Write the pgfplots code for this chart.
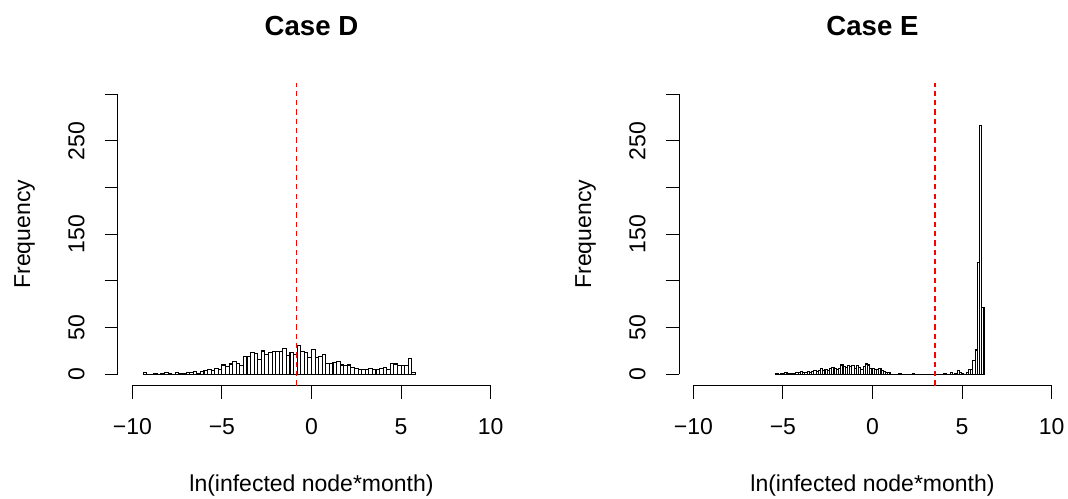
\documentclass[border=0pt]{standalone}
\usepackage{fontspec}
\setmainfont{Liberation Sans}
\usepackage{pgfplots}
\usepackage{pgfplotstable}
\pgfplotsset{compat=1.18}
\definecolor{rred}{RGB}{255,0,0}

% Case D: bin width 0.2, left edges; last row closes the final bin
\pgfplotstableread{
x y
-9.4 2
-9.2 0
-9.0 0
-8.8 1
-8.6 0
-8.4 1
-8.2 2
-8.0 1
-7.8 0
-7.6 2
-7.4 1
-7.2 1
-7.0 2
-6.8 2
-6.6 3
-6.4 1
-6.2 3
-6.0 4
-5.8 5
-5.6 4
-5.4 6
-5.2 5
-5.0 10
-4.8 8
-4.6 11
-4.4 14
-4.2 12
-4.0 9
-3.8 19
-3.6 19
-3.4 23
-3.2 22
-3.0 16
-2.8 25
-2.6 21
-2.4 23
-2.2 24
-2.0 24
-1.8 24
-1.6 28
-1.4 20
-1.2 23
-1.0 21
-0.8 31
-0.6 24
-0.4 23
-0.2 18
0.0 27
0.2 18
0.4 19
0.6 21
0.8 12
1.0 12
1.2 13
1.4 14
1.6 10
1.8 9
2.0 10
2.2 7
2.4 6
2.6 5
2.8 5
3.0 5
3.2 6
3.4 5
3.6 5
3.8 6
4.0 7
4.2 5
4.4 12
4.6 11
4.8 9
5.0 9
5.2 9
5.4 17
5.6 2
5.8 0
}\caseD

% Case E: bin width 0.125
\pgfplotstableread{
x y
-5.4 1
-5.275 0
-5.15 1
-5.025 1
-4.9 2
-4.775 1
-4.65 1
-4.525 1
-4.4 1
-4.275 2
-4.15 2
-4.025 3
-3.9 2
-3.775 2
-3.65 3
-3.525 2
-3.4 3
-3.275 4
-3.15 3
-3.025 4
-2.9 6
-2.775 4
-2.65 5
-2.525 4
-2.4 6
-2.275 7
-2.15 6
-2.025 5
-1.9 6
-1.775 10
-1.65 8
-1.525 7
-1.4 9
-1.275 8
-1.15 9
-1.025 6
-0.9 9
-0.775 7
-0.65 5
-0.525 8
-0.4 11
-0.275 10
-0.15 6
-0.025 6
0.1 5
0.225 5
0.35 6
0.475 4
0.6 3
0.725 2
0.85 2
0.975 0
1.1 0
1.225 0
1.35 0
1.475 1
1.6 0
1.725 0
1.85 0
1.975 0
2.1 0
2.225 1
2.35 0
2.475 0
2.6 0
2.725 0
2.85 0
2.975 0
3.1 0
3.225 0
3.35 0
3.475 0
3.6 0
3.725 0
3.85 0
3.975 1
4.1 0
4.225 0
4.35 2
4.475 0
4.6 1
4.725 4
4.85 2
4.975 1
5.1 0
5.225 2
5.35 5
5.475 5
5.6 15
5.725 26
5.85 120
5.975 267
6.1 72
6.225 0
}\caseE

\tikzset{vline/.style={draw=rred, line width=1.1pt, dash pattern=on 4pt off 3pt}}

\pgfplotsset{
  rhist/.style={
    scale only axis,
    width=290.25pt, height=226.8pt,
    anchor=south west,
    xmin=-10.8, xmax=10.8, ymin=-12, ymax=312,
    axis x line*=bottom, axis y line*=left,
    axis line style={draw=none},
    tick align=outside,
    major tick length=10pt,
    major tick style={black, line width=0.75pt},
    xtick={-10,-5,0,5,10},
    xticklabels={−10,−5,0,5,10},
    ytick={0,50,100,150,200,250,300},
    yticklabels={0,50,,150,,250,},
    tick label style={font=\fontsize{17.25}{20}\selectfont},
    label style={font=\fontsize{17.25}{20}\selectfont},
    xticklabel style={anchor=base, yshift=-27pt},
    yticklabel style={xshift=-15.3pt, rotate=90, anchor=base},
    title style={at={(axis description cs:0.5,1.13)}, anchor=base,
                 font=\bfseries\fontsize{20.7}{24}\selectfont},
    xlabel style={at={(axis description cs:0.5,-0.351)}, anchor=base},
    ylabel style={at={(axis description cs:-0.227,0.5)}, anchor=base},
    xlabel={ln(infected node*month)},
    ylabel={Frequency},
    clip=false,
  },
  rbars/.style={ybar interval, fill=white, draw=black, line width=0.85pt},
}

\begin{document}
\begin{tikzpicture}
\path[use as bounding box] (0,0) rectangle (801pt,-374.25pt);

\begin{axis}[rhist, at={(88.5pt,-289.125pt)}, title={Case D}]
\addplot[rbars] table[x=x, y=y] {\caseD};
\draw[line width=0.75pt] (axis cs:-10,-12) -- (axis cs:10,-12);
\draw[line width=0.75pt] (axis cs:-10.8,0) -- (axis cs:-10.8,300);
\draw[vline] (axis cs:-0.83,-12) -- (axis cs:-0.83,312);
\end{axis}

\begin{axis}[rhist, at={(509.25pt,-289.125pt)}, title={Case E}]
\addplot[rbars] table[x=x, y=y] {\caseE};
\draw[line width=0.75pt] (axis cs:-10,-12) -- (axis cs:10,-12);
\draw[line width=0.75pt] (axis cs:-10.8,0) -- (axis cs:-10.8,300);
\draw[vline] (axis cs:3.49,-12) -- (axis cs:3.49,312);
\end{axis}
\end{tikzpicture}
\end{document}
